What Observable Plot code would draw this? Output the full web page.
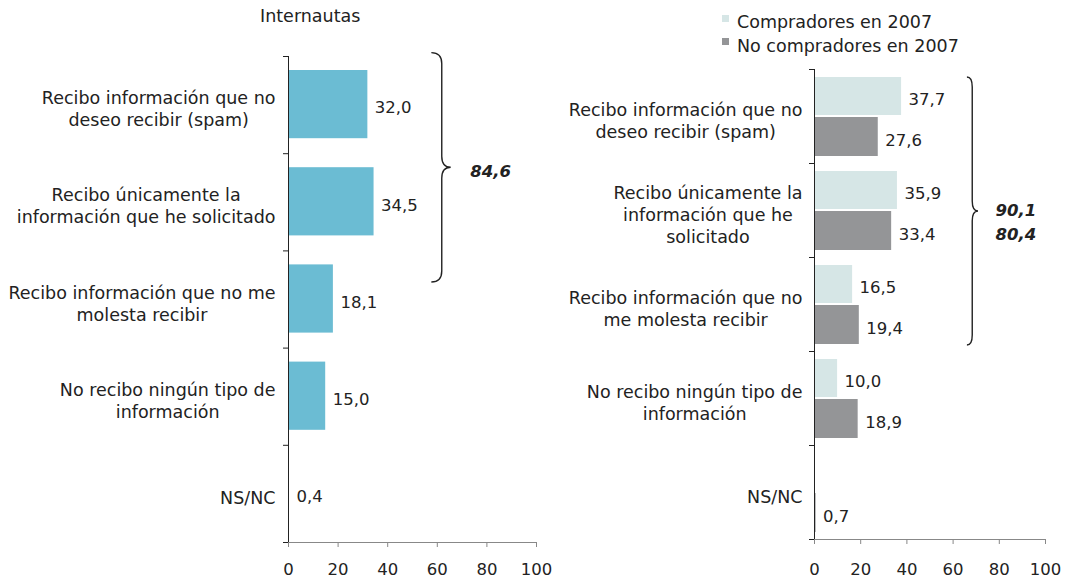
<!DOCTYPE html>
<html><head><meta charset="utf-8">
<script src="https://cdn.jsdelivr.net/npm/d3@7"></script>
<script src="https://cdn.jsdelivr.net/npm/@observablehq/plot@0.6"></script>
<style>
body{margin:0;background:#fff;}
#wrap{position:relative;width:1066px;height:579px;overflow:hidden;font-family:"DejaVu Sans",Verdana,sans-serif;color:#222;}
#wrap svg{position:absolute;top:0;overflow:visible;}
.title{position:absolute;left:260px;top:6px;font-size:17.5px;white-space:nowrap;}
.leg{position:absolute;left:737px;font-size:17.5px;line-height:20px;white-space:nowrap;}
.sw{position:absolute;left:722px;width:7px;height:7px;}
</style></head>
<body><div id="wrap"></div>
<script>
// ---- data ----
const leftTitle = "Internautas";
const leftCategories = [
  "Recibo información que no\ndeseo recibir (spam)",
  "Recibo únicamente la\ninformación que he solicitado",
  "Recibo información que no me\nmolesta recibir",
  "No recibo ningún tipo de\ninformación",
  "NS/NC"
];
const leftValues = [32.0, 34.5, 18.1, 15.0, 0.4];
const leftTotals = ["84,6"];

const rightCategories = [
  "Recibo información que no\ndeseo recibir (spam)",
  "Recibo únicamente la\ninformación que he\nsolicitado",
  "Recibo información que no\nme molesta recibir",
  "No recibo ningún tipo de\ninformación",
  "NS/NC"
];
const seriesNames = ["Compradores en 2007", "No compradores en 2007"];
const compradores = [37.7, 35.9, 16.5, 10.0, null];
const noCompradores = [27.6, 33.4, 19.4, 18.9, 0.7];
const rightTotals = ["90,1", "80,4"];

const xTicks = [0, 20, 40, 60, 80, 100];

// ---- styles ----
const leftColor = "#6bbcd3";
const seriesColors = ["#d6e6e6", "#949597"];
const ink = "#222";
const labelSize = 17.5, numSize = 16.5, lineH = 22;

const fmt = v => v.toFixed(1).replace(".", ",");
const ctx = document.createElement("canvas").getContext("2d");
function measure(s, size) { ctx.font = `${size}px "DejaVu Sans"`; return ctx.measureText(s).width; }

function categoryLabels(cats, gap) {
  return cats.map((c, i) => {
    const w = d3.max(c.split("\n"), l => measure(l, labelSize));
    return Plot.text([{c, i}], {
      x: () => 0, y: d => d.i + 0.5, text: "c",
      textAnchor: "middle", lineAnchor: "middle", lineHeight: lineH / labelSize,
      dx: -(gap + w / 2), dy: 3, fontSize: labelSize, fill: ink
    });
  });
}

function braceMark(xs, yTop, yBot, r) {
  return (index, scales) => {
    const [x0, x1, x2] = xs.map(scales.x);
    const t = scales.y(yTop), b = scales.y(yBot), m = (t + b) / 2;
    const p = d3.path();
    p.moveTo(x0, t);
    p.quadraticCurveTo(x1, t, x1, t + r);
    p.lineTo(x1, m - r);
    p.quadraticCurveTo(x1, m, x2, m);
    p.quadraticCurveTo(x1, m, x1, m + r);
    p.lineTo(x1, b - r);
    p.quadraticCurveTo(x1, b, x0, b);
    return d3.create("svg:path").attr("d", p.toString()).attr("fill", "none")
      .attr("stroke", ink).attr("stroke-width", 1.4).node();
  };
}

function axes(tickPad) {
  return [
    Plot.ruleY([5], {stroke: "#888"}),
    Plot.axisX({ticks: xTicks, tickSize: 5, tickFormat: () => "", color: "#888", label: null}),
    Plot.axisX({ticks: xTicks, tickSize: 0, tickPadding: tickPad, color: ink, fontSize: numSize, label: null}),
    Plot.axisY({ticks: [0, 1, 2, 3, 4, 5], tickSize: 5, tickFormat: () => "", color: ink, label: null}),
    Plot.ruleX([0], {stroke: ink})
  ];
}

const baseStyle = {fontFamily: '"DejaVu Sans", Verdana, sans-serif', fontSize: numSize + "px", color: ink, background: "transparent", overflow: "visible"};

// ---- left panel ----
const leftData = leftCategories.map((c, i) => ({c, i, v: leftValues[i]}));
const leftPlot = Plot.plot({
  width: 560, height: 579, marginLeft: 288, marginRight: 24, marginTop: 56, marginBottom: 37,
  style: baseStyle,
  x: {domain: [0, 100], label: null},
  y: {domain: [0, 5], reverse: true, label: null},
  marks: [
    Plot.rect(leftData, {x1: 0, x2: "v", y1: "i", y2: d => d.i + 1, insetTop: 14, insetBottom: 15, fill: leftColor}),
    ...axes(21),
    Plot.text(leftData, {x: "v", y: d => d.i + 0.5, text: d => fmt(d.v), textAnchor: "start", dx: 7, dy: 3, fontSize: numSize, fill: ink}),
    ...categoryLabels(leftCategories, 13),
    braceMark([57.8, 62, 65.6], -0.035, 2.325, 11),
    Plot.text([leftTotals.join("\n")], {x: () => 65.6, y: () => 1.145, text: d => d, textAnchor: "start", dx: 19, dy: 3.5,
      fontWeight: "bold", fontStyle: "italic", fontSize: numSize, fill: ink})
  ]
});

// ---- right panel ----
const rightSeries = [compradores, noCompradores];
const rightData = rightSeries.flatMap((vals, s) =>
  vals.map((v, i) => ({c: rightCategories[i], i, s, v})).filter(d => d.v != null));
const insets = [[8, 1], [1, 7]];
const labelDy = [7, 1];
const rightPlot = Plot.plot({
  width: 506, height: 579, marginLeft: 254, marginRight: 21, marginTop: 69, marginBottom: 40,
  style: baseStyle,
  x: {domain: [0, 100], label: null},
  y: {domain: [0, 5], reverse: true, label: null},
  marks: [
    ...[0, 1].map(s => Plot.rect(rightData.filter(d => d.s === s), {
      x1: 0, x2: "v", y1: d => d.i + 0.5 * s, y2: d => d.i + 0.5 * (s + 1),
      insetTop: insets[s][0], insetBottom: insets[s][1], fill: seriesColors[s]})),
    ...axes(24),
    ...[0, 1].map(s => Plot.text(rightData.filter(d => d.s === s), {
      x: "v", y: d => d.i + 0.25 + 0.5 * s, text: d => fmt(d.v), textAnchor: "start",
      dx: 7, dy: labelDy[s], fontSize: numSize, fill: ink})),
    ...categoryLabels(rightCategories, 12),
    braceMark([66.2, 68.5, 71], 0.085, 2.936, 10),
    Plot.text([rightTotals.join("\n")], {x: () => 71, y: () => 1.511, text: d => d, textAnchor: "start", lineAnchor: "middle",
      lineHeight: 24 / numSize, dx: 17, dy: 9, fontWeight: "bold", fontStyle: "italic", fontSize: numSize, fill: ink})
  ]
});

// ---- assemble ----
const wrap = document.getElementById("wrap");
leftPlot.style.left = "0px";
rightPlot.style.left = "560px";
wrap.appendChild(leftPlot);
wrap.appendChild(rightPlot);

const title = document.createElement("div");
title.className = "title"; title.textContent = leftTitle;
wrap.appendChild(title);

seriesNames.forEach((name, s) => {
  const sw = document.createElement("div");
  sw.className = "sw"; sw.style.top = (15 + 23 * s) + "px"; sw.style.background = seriesColors[s];
  const t = document.createElement("div");
  t.className = "leg"; t.style.top = (12 + 24 * s) + "px"; t.textContent = name;
  wrap.appendChild(sw); wrap.appendChild(t);
});
</script>
</body></html>
